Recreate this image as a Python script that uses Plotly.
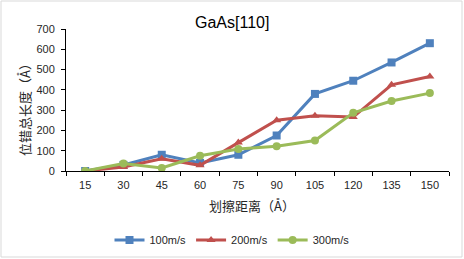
import plotly.graph_objects as go

categories = ["15", "30", "45", "60", "75", "90", "105", "120", "135", "150"]
v100 = [0, 30, 80, 40, 80, 175, 380, 445, 535, 630]
v200 = [0, 20, 60, 28, 140, 250, 272, 266, 425, 466]
v300 = [0, 37, 15, 75, 108, 122, 150, 287, 345, 384]
series_names = ["100m/s", "200m/s", "300m/s"]
y_ticks = [0, 100, 200, 300, 400, 500, 600, 700]

colors = ["#4F81BD", "#C0504D", "#9BBB59"]
symbols = ["square", "triangle-up", "circle"]

fig = go.Figure()
for name, vals, c, s in zip(series_names, [v100, v200, v300], colors, symbols):
    fig.add_trace(go.Scatter(
        x=categories, y=vals, name=name, mode="lines+markers",
        line=dict(color=c, width=3),
        marker=dict(symbol=s, size=8, color=c),
    ))

txt = "#262626"
lat = "Liberation Sans, Arial, sans-serif"
num_font = dict(family=lat, size=11, color=txt)
cjk = "Noto Sans CJK SC, sans-serif"

L, R, T, B = 66, 449, 29, 171
W, H = 464, 259
def px(x):
    return (x - L) / (R - L)
def py(y):
    return (B - y) / (B - T)

fig.update_layout(
    width=W, height=H,
    margin=dict(l=L, r=W - R, t=T, b=H - B),
    paper_bgcolor="white", plot_bgcolor="white",
    showlegend=True,
    legend=dict(orientation="h", x=0.5, xref="container", xanchor="center",
                y=1 - 240 / H, yref="container", yanchor="middle",
                font=dict(family=lat, size=11, color=txt),
                itemwidth=30, tracegroupgap=0),
    xaxis=dict(type="category", range=[-0.5, 9.5], tickson="boundaries",
               ticks="outside", ticklen=4, tickcolor="#000", showline=True,
               linecolor="#000", linewidth=1, showgrid=False, tickfont=num_font,
               ticklabelstandoff=4),
    yaxis=dict(range=[0, 700], tickvals=y_ticks, ticks="outside", ticklen=4,
               tickcolor="#000", showline=True, linecolor="#000", linewidth=1,
               showgrid=False, zeroline=False, tickfont=num_font,
               ticklabelstandoff=4),
    annotations=[
        dict(text="GaAs[110]", xref="paper", yref="paper", x=px(232), y=py(22),
             xanchor="center", yanchor="middle", showarrow=False,
             font=dict(family=lat, size=16, color="#000")),
        dict(text="划擦距离（Å）", xref="paper", yref="paper", x=px(252), y=py(205),
             xanchor="center", yanchor="middle", showarrow=False,
             font=dict(family=cjk, size=13, color=txt)),
        dict(text="位错总长度（Å）", xref="paper", yref="paper", x=px(25), y=py(107),
             xanchor="center", yanchor="middle", showarrow=False, textangle=-90,
             font=dict(family=cjk, size=13, color=txt)),
    ],
    shapes=[dict(type="rect", xref="paper", yref="paper",
                 x0=px(1), x1=px(462), y0=py(257), y1=py(1),
                 line=dict(color="#D9D9D9", width=1))],
)

fig.write_html("out.html", config={"displayModeBar": False},
               post_script="document.body.style.margin='0';")
